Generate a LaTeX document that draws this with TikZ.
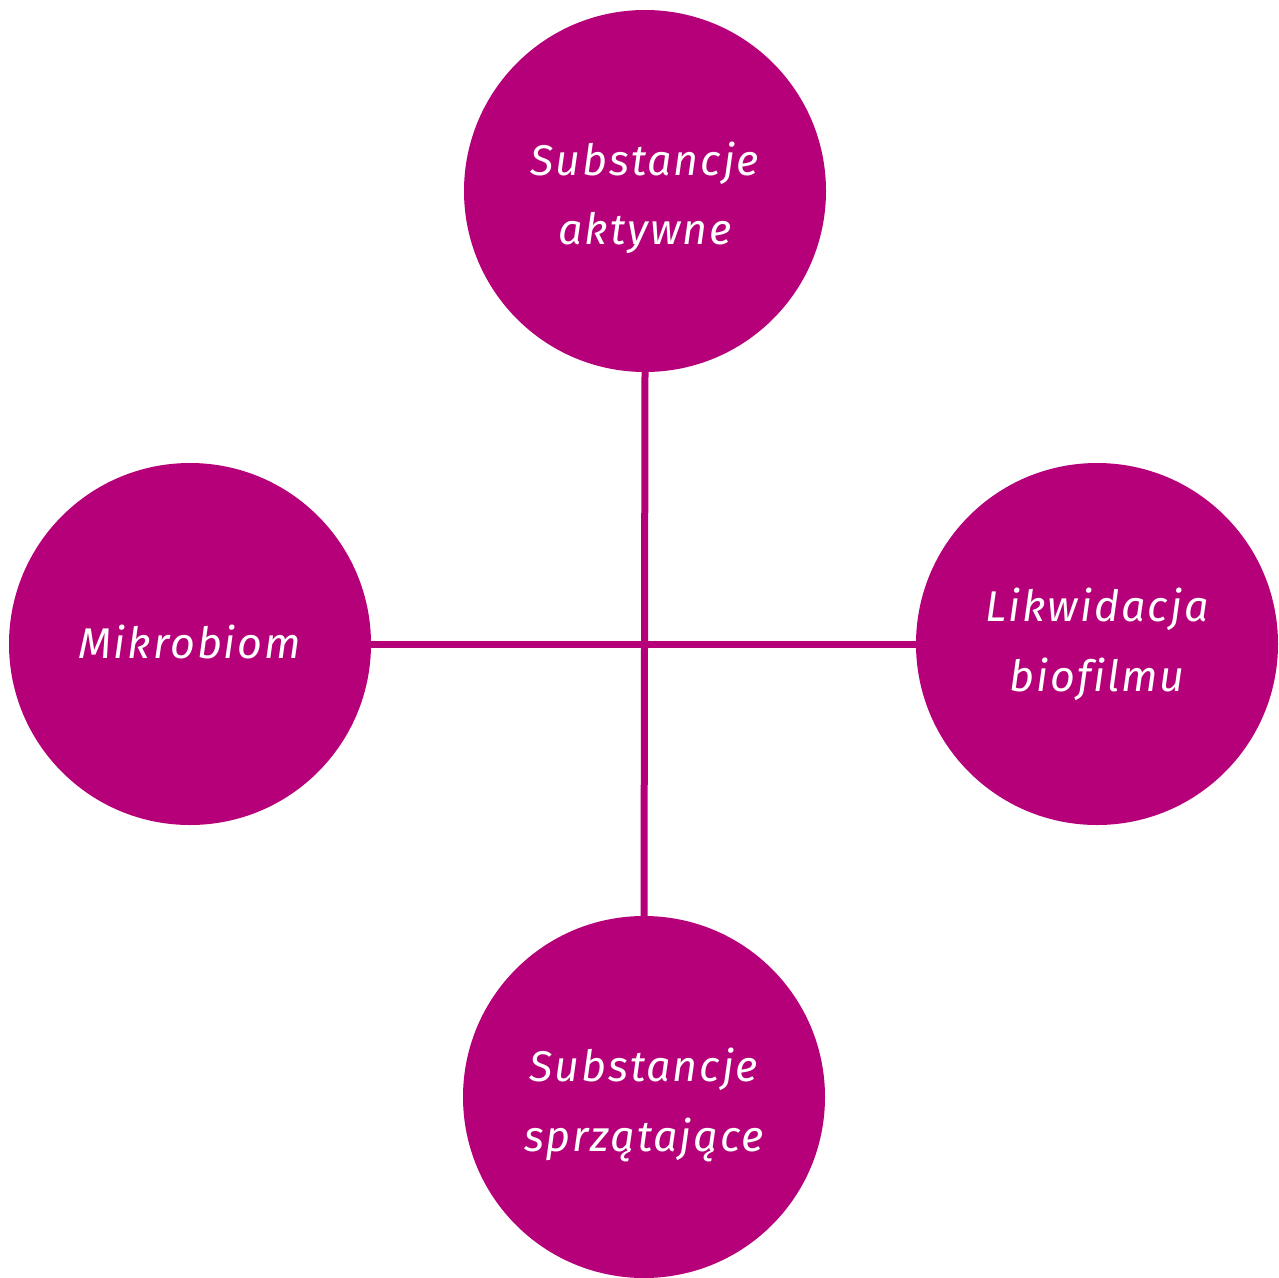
\documentclass[tikz,border=0pt]{standalone}
\usepackage{fontspec}
\setmainfont{Fira Sans}[LetterSpace=4.5,Ligatures={NoCommon}]
\definecolor{magenta}{RGB}{181,0,122}
\begin{document}
\begin{tikzpicture}[x=1pt,y=-1pt,
  bubble/.style={circle,fill=magenta,minimum size=362pt,inner sep=0pt},
  caption/.style={text=white,align=center,inner sep=0pt,
    font=\fontsize{43}{68}\selectfont\itshape},
  link/.style={draw=magenta,line width=7pt}]
\useasboundingbox (0,0) rectangle (1279,1277);
\node[bubble] (top) at (645,191) {};
\node[bubble] (left) at (190,644) {};
\node[bubble] (right) at (1097,644) {};
\node[bubble] (bottom) at (644,1097) {};
\node[caption,yshift=-7pt] (toptext) at (top.center) {\shortstack{Substancje\\[24pt]aktywne}};
\node[caption,yshift=2pt] (lefttext) at (left.center) {Mikrobiom};
\node[caption,yshift=0pt] (righttext) at (right.center) {\shortstack{Likwidacja\\[24pt]biofilmu}};
\node[caption,yshift=-8pt] (bottomtext) at (bottom.center) {\shortstack{Substancje\\[24pt]sprzątające}};
\draw[link] (top.south) -- (bottom.north);
\draw[link] (left.east) -- (right.west);
\end{tikzpicture}
\end{document}
